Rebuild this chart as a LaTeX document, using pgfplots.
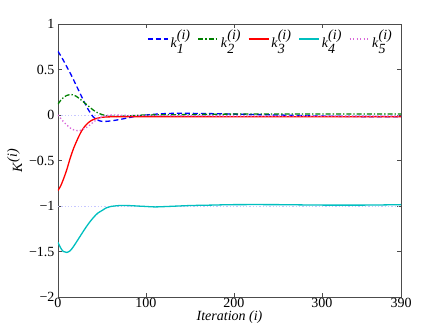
\documentclass[border=0pt]{standalone}
\usepackage{fontspec}
\setmainfont{Liberation Serif}
\usepackage{pgfplots}
\pgfplotsset{compat=1.18}

\definecolor{kblue}{rgb}{0,0,1}
\definecolor{kgreen}{rgb}{0,0.5,0}
\definecolor{kred}{rgb}{1,0,0}
\definecolor{kcyan}{rgb}{0,0.75,0.75}
\definecolor{kmag}{rgb}{0.85,0.4,0.85}
\definecolor{kref}{rgb}{0.78,0.78,1}

\newcommand\kk[1]{\textit{k}$^{\textit{(i)}}_{\textit{#1}}$}

\begin{document}
\begin{tikzpicture}
\path[use as bounding box] (-58pt,-36pt) rectangle (385pt,297pt);
\begin{axis}[
    scale only axis,
    width=343pt, height=273pt,
    xmin=0, xmax=390, ymin=-2, ymax=1,
    xtick={0,100,200,300,390},
    xticklabels={0,100,200,300,390},
    ytick={-2,-1.5,-1,-0.5,0,0.5,1},
    yticklabels={−2,−1.5,−1,−0.5,0,0.5,1},
    tick align=inside,
    major tick length=4pt,
    axis line style={black!70},
    tick style={black!70},
    every tick label/.append style={font=\fontsize{14}{16}\selectfont},
    xticklabel style={yshift=2pt},
    xlabel={\textit{Iteration (i)}},
    ylabel={\textit{K}$^{\textit{(i)}}$},
    label style={font=\fontsize{14}{16}\selectfont},
    xlabel style={yshift=4pt},
    ylabel style={yshift=0pt},
    legend columns=5,
    legend style={at={(0.99,0.995)}, anchor=north east, draw=none, fill=none,
        font=\fontsize{14}{16}\selectfont,
        /tikz/every even column/.append style={column sep=5pt}},
    legend cell align=left,
    legend image code/.code={\draw[#1] (0pt,0pt) -- (20pt,0pt);},
    every axis plot/.append style={line width=1.3pt},
  ]

  % faint reference lines
  \addplot[kref, dotted, line width=0.6pt, forget plot] coordinates {(0,0) (390,0)};
  \addplot[kref, dotted, line width=0.6pt, forget plot] coordinates {(0,-1) (390,-1)};

  % k1
  \addplot[kblue, dash pattern=on 5pt off 3pt, smooth] coordinates {
    (0,0.70) (5,0.62) (10,0.53) (15,0.44) (20,0.34) (25,0.24) (30,0.14)
    (35,0.05) (40,-0.02) (45,-0.055) (50,-0.07) (55,-0.07) (60,-0.065)
    (70,-0.05) (80,-0.03) (90,-0.012) (100,0.0) (115,0.012) (130,0.018)
    (150,0.018) (175,0.015) (200,0.01) (250,0.0) (300,-0.012) (350,-0.018) (390,-0.02)
  };
  \addlegendentry{\kk{1}}

  % k2
  \addplot[kgreen, dash pattern=on 5pt off 2pt on 1.3pt off 2pt, smooth] coordinates {
    (0,0.12) (3,0.16) (6,0.19) (10,0.215) (15,0.225) (20,0.21) (25,0.175)
    (30,0.135) (35,0.095) (40,0.055) (45,0.025) (50,0.005) (55,-0.008)
    (65,-0.015) (80,-0.01) (100,0.0) (150,0.005) (200,0.01) (300,0.01) (390,0.01)
  };
  \addlegendentry{\kk{2}}

  % k3
  \addplot[kred, smooth] coordinates {
    (0,-0.83) (3,-0.78) (6,-0.71) (10,-0.60) (14,-0.47) (18,-0.36) (22,-0.27)
    (26,-0.19) (30,-0.13) (35,-0.08) (40,-0.05) (45,-0.035) (50,-0.025)
    (60,-0.02) (80,-0.02) (100,-0.02) (200,-0.02) (300,-0.02) (390,-0.02)
  };
  \addlegendentry{\kk{3}}

  % k4
  \addplot[kcyan, smooth] coordinates {
    (0,-1.40) (3,-1.46) (6,-1.50) (10,-1.51) (14,-1.49) (18,-1.44) (22,-1.38)
    (26,-1.32) (30,-1.26) (35,-1.19) (40,-1.13) (45,-1.08) (50,-1.05)
    (55,-1.02) (60,-1.005) (70,-0.995) (80,-0.995) (90,-1.0) (100,-1.005)
    (110,-1.01) (125,-1.005) (150,-0.995) (175,-0.99) (200,-0.985)
    (250,-0.985) (300,-0.99) (350,-0.99) (390,-0.985)
  };
  \addlegendentry{\kk{4}}

  % k5
  \addplot[kmag, dash pattern=on 1.3pt off 2.2pt, smooth] coordinates {
    (0,0.0) (5,-0.06) (10,-0.11) (15,-0.15) (20,-0.17) (25,-0.17) (30,-0.15)
    (35,-0.12) (40,-0.08) (45,-0.045) (50,-0.02) (55,-0.005) (65,0.0)
    (80,-0.005) (100,-0.005) (200,-0.01) (390,-0.01)
  };
  \addlegendentry{\kk{5}}

\end{axis}
\end{tikzpicture}
\end{document}
